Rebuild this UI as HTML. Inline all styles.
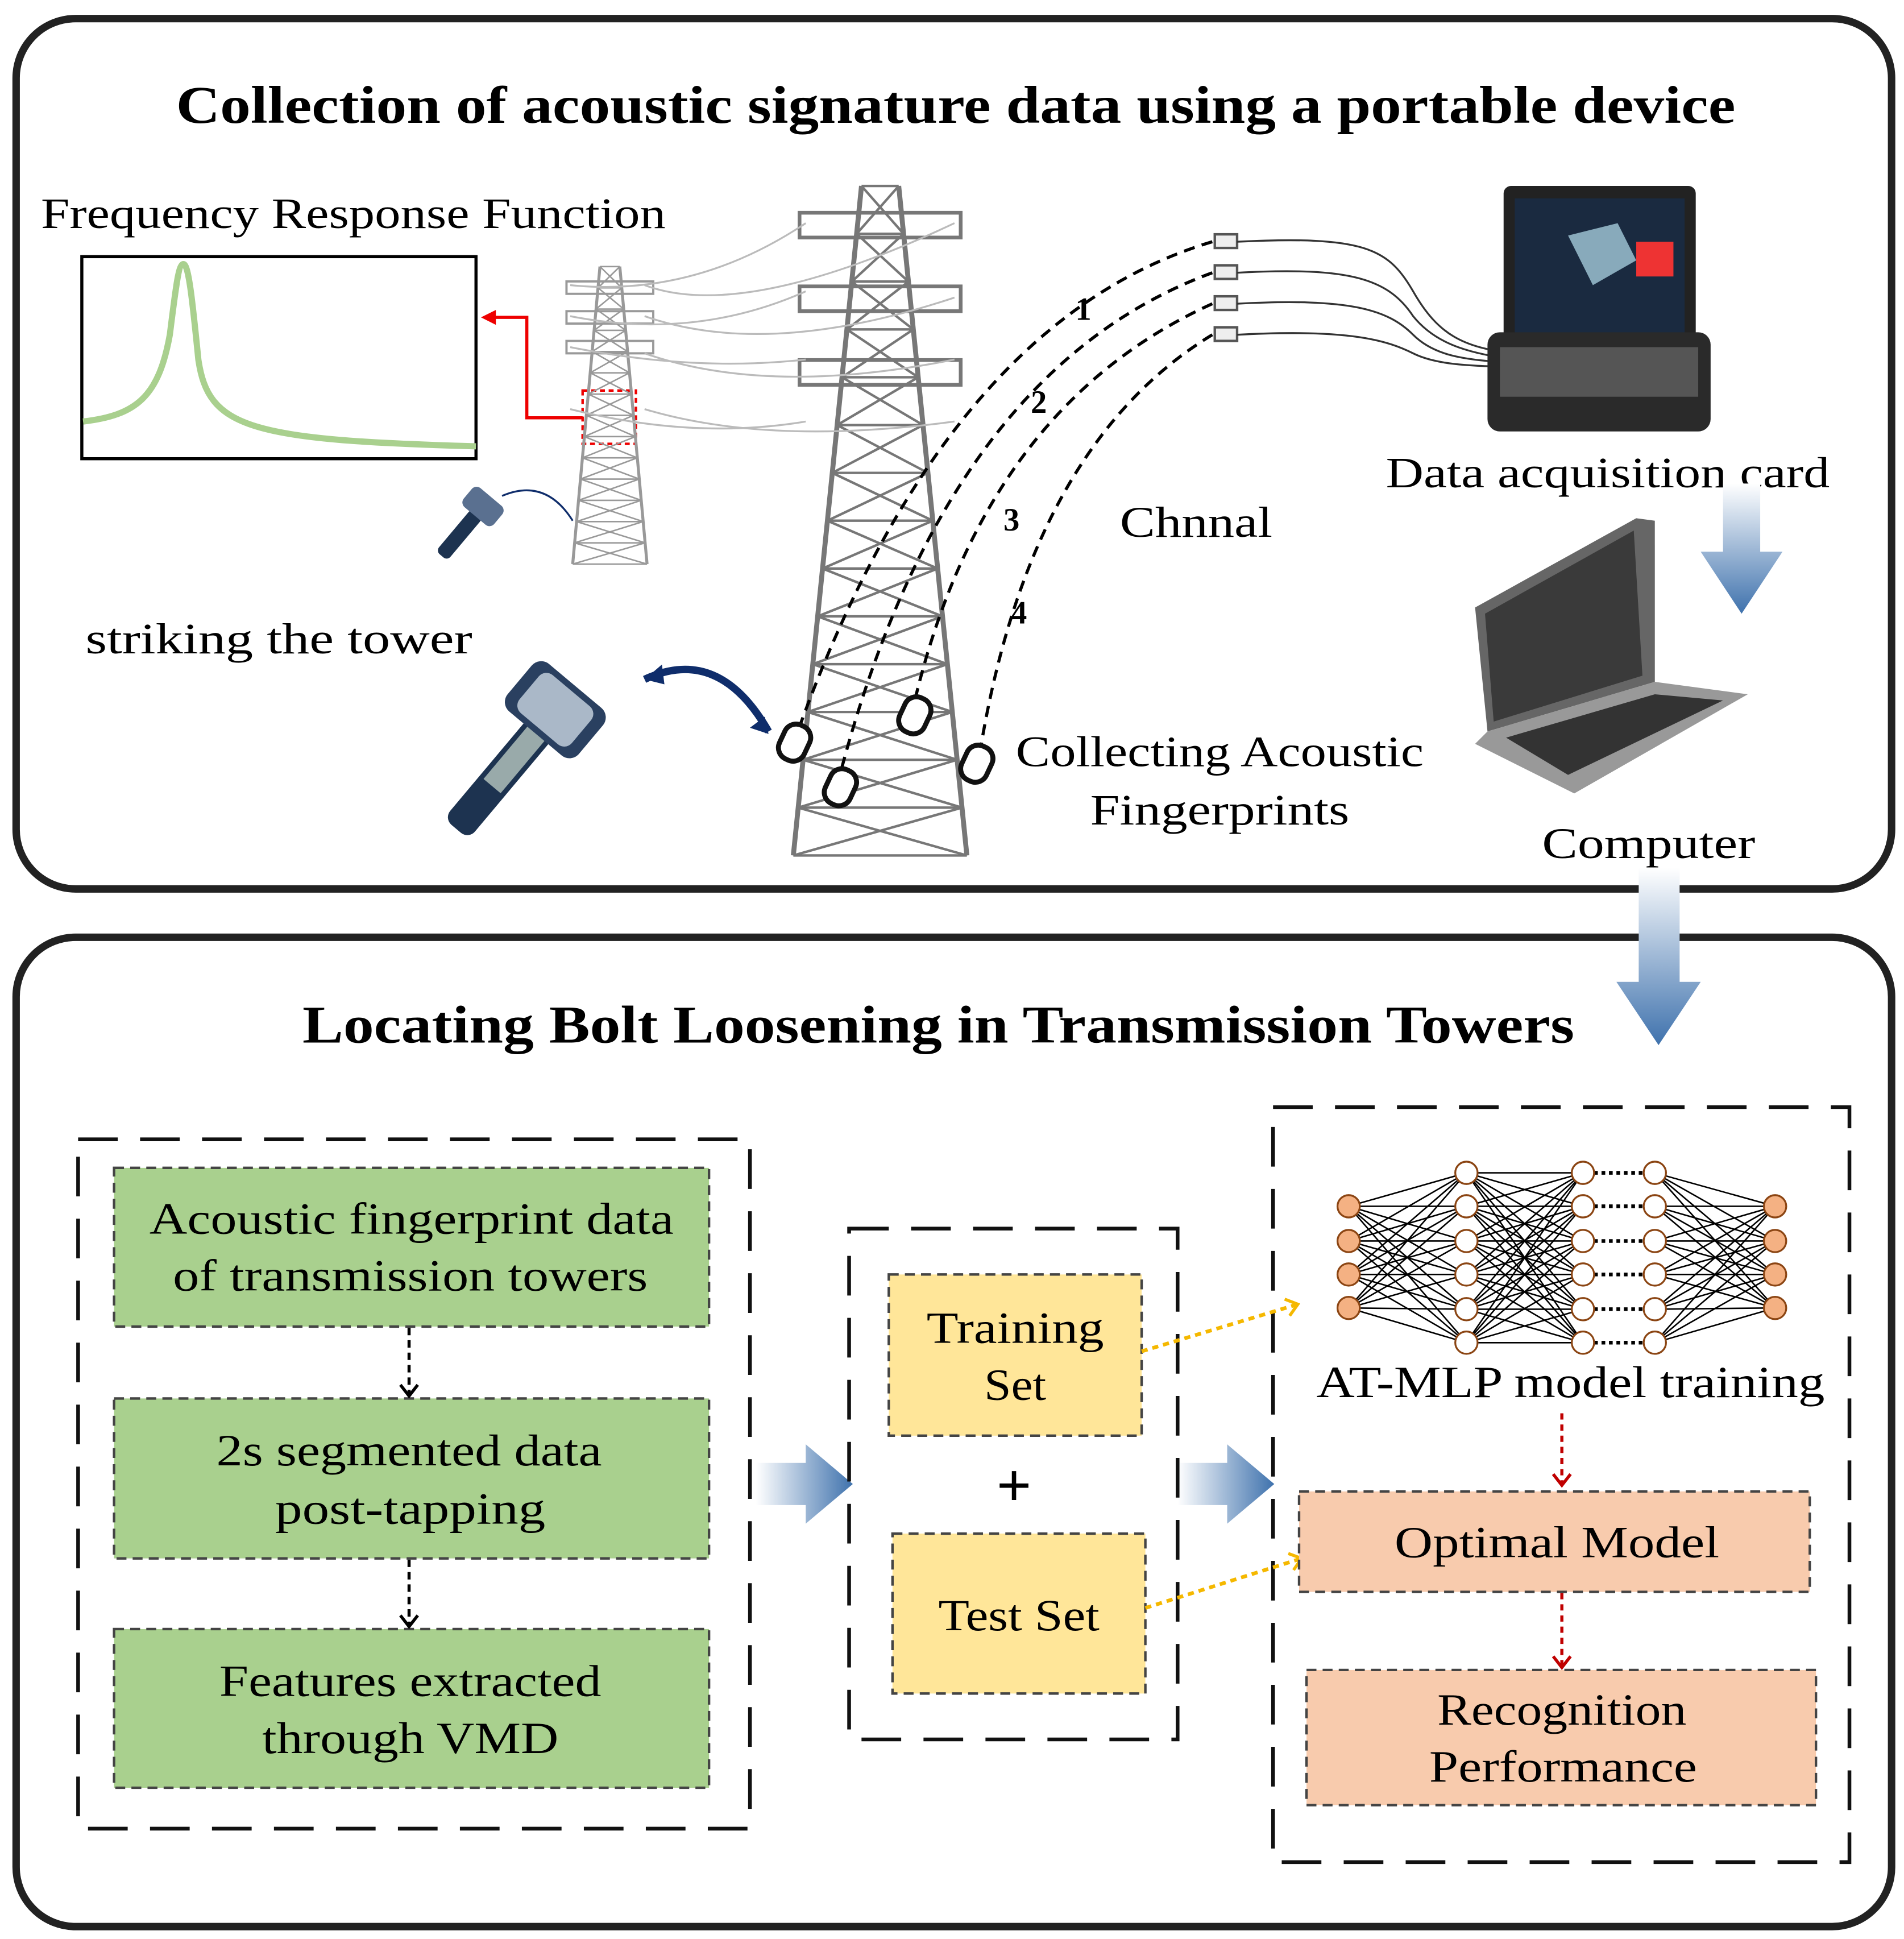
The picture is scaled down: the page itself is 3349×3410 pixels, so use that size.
<!DOCTYPE html>
<html><head><meta charset="utf-8"><style>
html,body{margin:0;padding:0;background:#fff}
svg{display:block}
text{font-family:"Liberation Serif",serif}
</style></head><body>
<svg id="s" width="3349" height="3410" viewBox="0 0 1536 1564" xmlns="http://www.w3.org/2000/svg">
<defs>
<linearGradient id="bd" x1="0" y1="0" x2="0" y2="1"><stop offset="0" stop-color="#fff"/><stop offset="1" stop-color="#3f72ad"/></linearGradient>
<linearGradient id="br" x1="0" y1="0" x2="1" y2="0"><stop offset="0" stop-color="#fff"/><stop offset="1" stop-color="#3f72ad"/></linearGradient>
<marker id="ay" markerWidth="12" markerHeight="16" refX="10" refY="8" orient="auto" markerUnits="userSpaceOnUse"><path d="M1,1 L10,8 L1,15" fill="none" stroke="#f5b800" stroke-width="2.5"/></marker>
<marker id="ar" markerWidth="12" markerHeight="16" refX="10" refY="8" orient="auto" markerUnits="userSpaceOnUse"><path d="M1,1 L10,8 L1,15" fill="none" stroke="#c00000" stroke-width="2.5"/></marker>
<marker id="ak" markerWidth="12" markerHeight="16" refX="10" refY="8" orient="auto" markerUnits="userSpaceOnUse"><path d="M1,1 L10,8 L1,15" fill="none" stroke="#000" stroke-width="2.5"/></marker>
</defs>

<rect x="13" y="15" width="1513" height="702" rx="48" fill="none" stroke="#222" stroke-width="6"/>
<rect x="13" y="756" width="1513" height="798" rx="48" fill="none" stroke="#222" stroke-width="6"/>
<text x="771" y="99" font-size="43" font-weight="bold" text-anchor="middle" textLength="1258" lengthAdjust="spacingAndGlyphs">Collection of acoustic signature data using a portable device</text>
<text x="757" y="841" font-size="43" font-weight="bold" text-anchor="middle" textLength="1026" lengthAdjust="spacingAndGlyphs">Locating Bolt Loosening in Transmission Towers</text>

<text x="285" y="184" font-size="35" text-anchor="middle" textLength="504" lengthAdjust="spacingAndGlyphs">Frequency Response Function</text>
<rect x="66" y="207" width="318" height="163" fill="#fff" stroke="#000" stroke-width="2.5"/>
<path d="M67,340 C110,335 128,320 137,270 C142,230 144,213 148,213 C152,213 155,240 160,290 C168,345 200,355 384,360" fill="none" stroke="#a9d08e" stroke-width="5"/>
<path d="M470,337 H425 V256 H392" fill="none" stroke="#e00" stroke-width="2.5"/>
<path d="M400,250 L388,256 L400,262 Z" fill="#e00"/>
<rect x="470" y="315" width="43" height="43" fill="none" stroke="#e00" stroke-width="2" stroke-dasharray="4,3"/>
<text x="225" y="527" font-size="35" text-anchor="middle" textLength="312" lengthAdjust="spacingAndGlyphs">striking the  tower</text>
<text x="965" y="433" font-size="35" text-anchor="middle" textLength="123" lengthAdjust="spacingAndGlyphs">Chnnal</text>
<text x="984" y="618" font-size="35" text-anchor="middle" textLength="329" lengthAdjust="spacingAndGlyphs">Collecting Acoustic</text>
<text x="984" y="665" font-size="35" text-anchor="middle" textLength="209" lengthAdjust="spacingAndGlyphs">Fingerprints</text>
<text x="1297" y="393" font-size="35" text-anchor="middle" textLength="358" lengthAdjust="spacingAndGlyphs">Data acquisition card</text>
<text x="1330" y="692" font-size="35" text-anchor="middle" textLength="172" lengthAdjust="spacingAndGlyphs">Computer</text>

<g id="towers" stroke="#888" fill="none"></g>

<g stroke="#bbb" stroke-width="1.5" fill="none">
<path d="M460,230 Q560,240 650,180"/><path d="M460,255 Q560,275 650,235"/><path d="M460,280 Q560,300 650,290"/>
<path d="M520,230 Q600,260 770,180"/><path d="M520,255 Q620,290 770,240"/><path d="M520,285 Q620,320 770,290"/>
<path d="M460,330 Q560,355 650,340"/><path d="M520,330 Q620,360 770,340"/>
</g>

<g stroke="#000" stroke-width="2.5" fill="none" stroke-dasharray="9,6">
<path d="M978,195 Q760,260 640,600"/>
<path d="M978,220 Q760,300 675,635"/>
<path d="M978,245 Q790,330 735,578"/>
<path d="M978,270 Q830,360 790,610"/>
</g>
<g font-size="26" font-weight="bold" text-anchor="middle"><text x="874" y="258">1</text><text x="838" y="333">2</text><text x="816" y="428">3</text><text x="822" y="503">4</text></g>
<g stroke="#555" stroke-width="2" fill="#eee">
<rect x="980" y="189" width="18" height="11"/><rect x="980" y="214" width="18" height="11"/><rect x="980" y="239" width="18" height="11"/><rect x="980" y="264" width="18" height="11"/>
</g>
<g stroke="#333" stroke-width="1.5" fill="none">
<path d="M998,195 C1100,190 1120,200 1140,235 C1160,270 1180,280 1220,285"/>
<path d="M998,220 C1090,215 1120,225 1140,255 C1160,280 1190,285 1220,290"/>
<path d="M998,245 C1090,240 1120,250 1140,270 C1160,290 1190,290 1220,293"/>
<path d="M998,270 C1090,265 1120,275 1140,285 C1160,295 1190,295 1220,296"/>
</g>
<g fill="#fff" stroke="#111" stroke-width="4">
<rect x="630" y="584" width="22" height="30" rx="10" transform="rotate(25 641 599)"/>
<rect x="667" y="620" width="22" height="30" rx="10" transform="rotate(25 678 635)"/>
<rect x="727" y="562" width="22" height="30" rx="10" transform="rotate(25 738 577)"/>
<rect x="777" y="601" width="22" height="30" rx="10" transform="rotate(25 788 616)"/>
</g>
<g transform="rotate(40 430 590)">
<rect x="420" y="580" width="26" height="110" rx="8" fill="#1d3350"/>
<rect x="424" y="585" width="18" height="60" fill="#9aa"/>
<rect x="395" y="540" width="75" height="50" rx="10" fill="#2a4060"/>
<rect x="405" y="545" width="55" height="40" rx="8" fill="#aab8c8"/>
</g>
<path d="M520,548 Q580,520 620,590" fill="none" stroke="#0f2d6b" stroke-width="6"/>
<path d="M520,548 l14,-12 l2,16 z M620,592 l-15,-5 l12,-9 z" fill="#0f2d6b"/>
<g transform="rotate(40 380 420)">
<rect x="374" y="412" width="12" height="45" rx="4" fill="#1d3350"/>
<rect x="364" y="395" width="32" height="20" rx="5" fill="#5a7090"/>
</g>
<path d="M405,400 Q440,385 462,420" fill="none" stroke="#0f2d6b" stroke-width="1.5"/>

<rect x="1213" y="150" width="155" height="130" rx="6" fill="#222"/>
<rect x="1222" y="160" width="137" height="110" fill="#1a2a40"/>
<rect x="1320" y="195" width="30" height="28" fill="#e33"/>
<path d="M1265,190 l40,-10 l15,30 l-35,20 z" fill="#8ab"/>
<rect x="1200" y="268" width="180" height="80" rx="10" fill="#2a2a2a"/>
<rect x="1210" y="280" width="160" height="40" fill="#555"/>
<path d="M1190,490 L1320,418 L1335,420 L1335,550 L1200,590 Z" fill="#666"/>
<path d="M1198,495 L1318,428 L1325,545 L1205,582 Z" fill="#3a3a3a"/>
<path d="M1200,590 L1335,550 L1410,560 L1270,640 L1190,600 Z" fill="#999"/>
<path d="M1215,595 L1335,560 L1390,565 L1265,625 Z" fill="#333"/>

<path d="M1390,390 H1420 V445 H1438 L1405,495 L1372,445 H1390 Z" fill="url(#bd)"/>
<path d="M1322,700 H1355 V792 H1372 L1338,843 L1304,792 H1322 Z" fill="url(#bd)"/>
<path d="M610,1180 H650 V1165 L688,1197 L650,1229 V1214 H610 Z" fill="url(#br)"/>
<path d="M950,1180 H990 V1165 L1028,1197 L990,1229 V1214 H950 Z" fill="url(#br)"/>

<g fill="none" stroke="#111" stroke-width="3" stroke-dasharray="32,18">
<rect x="63" y="919" width="542" height="556"/>
<rect x="685" y="991" width="265" height="412"/>
<rect x="1027" y="893" width="465" height="609"/>
</g>
<g fill="#a9d08e" stroke="#444" stroke-width="2" stroke-dasharray="8,5">
<rect x="92" y="942" width="480" height="128"/><rect x="92" y="1128" width="480" height="129"/><rect x="92" y="1314" width="480" height="128"/>
</g>
<g font-size="36" text-anchor="middle" lengthAdjust="spacingAndGlyphs">
<text x="332" y="995" textLength="423" lengthAdjust="spacingAndGlyphs">Acoustic fingerprint data</text><text x="331" y="1041" textLength="383" lengthAdjust="spacingAndGlyphs">of transmission towers</text>
<text x="330" y="1182" textLength="311" lengthAdjust="spacingAndGlyphs">2s segmented data</text><text x="331" y="1229" textLength="218" lengthAdjust="spacingAndGlyphs">post-tapping</text>
<text x="331" y="1368" textLength="308" lengthAdjust="spacingAndGlyphs">Features extracted</text><text x="331" y="1414" textLength="239" lengthAdjust="spacingAndGlyphs">through VMD</text>
</g>
<g stroke="#000" stroke-width="2.5" stroke-dasharray="6,4" marker-end="url(#ak)"><line x1="330" y1="1071" x2="330" y2="1126"/><line x1="330" y1="1258" x2="330" y2="1312"/></g>
<g fill="#ffe699" stroke="#444" stroke-width="2" stroke-dasharray="8,5">
<rect x="717" y="1028" width="204" height="130"/><rect x="720" y="1237" width="204" height="129"/>
</g>
<g font-size="36" text-anchor="middle">
<text x="819" y="1083" textLength="143" lengthAdjust="spacingAndGlyphs">Training</text><text x="819" y="1129" textLength="50" lengthAdjust="spacingAndGlyphs">Set</text><text x="822" y="1315" textLength="130" lengthAdjust="spacingAndGlyphs">Test Set</text>
<text x="818" y="1215" font-size="50" font-weight="bold">+</text>
</g>
<g stroke="#f5b800" stroke-width="3" stroke-dasharray="5,4" fill="none" marker-end="url(#ay)">
<line x1="921" y1="1090" x2="1047" y2="1052"/><line x1="924" y1="1297" x2="1050" y2="1257"/>
</g>
<g fill="#f8cbad" stroke="#444" stroke-width="2" stroke-dasharray="8,5">
<rect x="1048" y="1203" width="412" height="81"/><rect x="1054" y="1347" width="411" height="109"/>
</g>
<g font-size="36" text-anchor="middle">
<text x="1256" y="1256" textLength="262" lengthAdjust="spacingAndGlyphs">Optimal Model</text>
<text x="1260" y="1391" textLength="201" lengthAdjust="spacingAndGlyphs">Recognition</text><text x="1261" y="1437" textLength="216" lengthAdjust="spacingAndGlyphs">Performance</text>
<text x="1267" y="1127" textLength="410" lengthAdjust="spacingAndGlyphs">AT-MLP model training</text>
</g>
<g stroke="#c00000" stroke-width="2.5" stroke-dasharray="5,4" marker-end="url(#ar)"><line x1="1260" y1="1140" x2="1260" y2="1198"/><line x1="1260" y1="1285" x2="1260" y2="1345"/></g>
<g id="nn"></g>
</svg>
<script>
var NS="http://www.w3.org/2000/svg";
function el(p,t,a){var e=document.createElementNS(NS,t);for(var k in a)e.setAttribute(k,a[k]);p.appendChild(e);return e;}
var nn=document.getElementById("nn");
var L=[[1088,[973,1001,1028,1055]],[1183,[946,973,1001,1028,1056,1083]],[1277,[946,973,1001,1028,1056,1083]],[1335,[946,973,1001,1028,1056,1083]],[1432,[973,1001,1028,1055]]];
[[0,1],[1,2],[3,4]].forEach(function(p){var a=L[p[0]],b=L[p[1]];a[1].forEach(function(y1){b[1].forEach(function(y2){el(nn,"line",{x1:a[0],y1:y1,x2:b[0],y2:y2,stroke:"#000","stroke-width":1.2});});});});
L[2][1].forEach(function(y){el(nn,"line",{x1:1286,y1:y,x2:1326,y2:y,stroke:"#000","stroke-width":3,"stroke-dasharray":"3,3"});});
L.forEach(function(l,i){l[1].forEach(function(y){el(nn,"circle",{cx:l[0],cy:y,r:9,fill:(i==0||i==4)?"#f4b183":"#fff",stroke:"#8b4513","stroke-width":1.5});});});
var tw=document.getElementById("towers");
function tower(cx,top,bot,wt,wb,arms,sw,col){
 var lt=cx-wt/2,rt=cx+wt/2,lb=cx-wb/2,rb=cx+wb/2;
 el(tw,"line",{x1:lt,y1:top,x2:lb,y2:bot,stroke:col,"stroke-width":sw*2});
 el(tw,"line",{x1:rt,y1:top,x2:rb,y2:bot,stroke:col,"stroke-width":sw*2});
 var n=14,prev=null;
 for(var i=0;i<=n;i++){var t=i/n,y=top+(bot-top)*t,xl=lt+(lb-lt)*t,xr=rt+(rb-rt)*t;
  el(tw,"line",{x1:xl,y1:y,x2:xr,y2:y,stroke:col,"stroke-width":sw});
  if(prev){el(tw,"line",{x1:prev[0],y1:prev[2],x2:xr,y2:y,stroke:col,"stroke-width":sw});el(tw,"line",{x1:prev[1],y1:prev[2],x2:xl,y2:y,stroke:col,"stroke-width":sw});}
  prev=[xl,xr,y];}
 arms.forEach(function(a){var y=top+(bot-top)*a[0];el(tw,"rect",{x:cx-a[1],y:y,width:a[1]*2,height:a[2],fill:"none",stroke:col,"stroke-width":sw*1.5});});
}
tower(710,150,690,30,140,[[0.04,65,20],[0.15,65,20],[0.26,65,20]],2,"#777");
tower(492,215,455,16,60,[[0.05,35,10],[0.15,35,10],[0.25,35,10]],1.2,"#999");
</script>
</body></html>
